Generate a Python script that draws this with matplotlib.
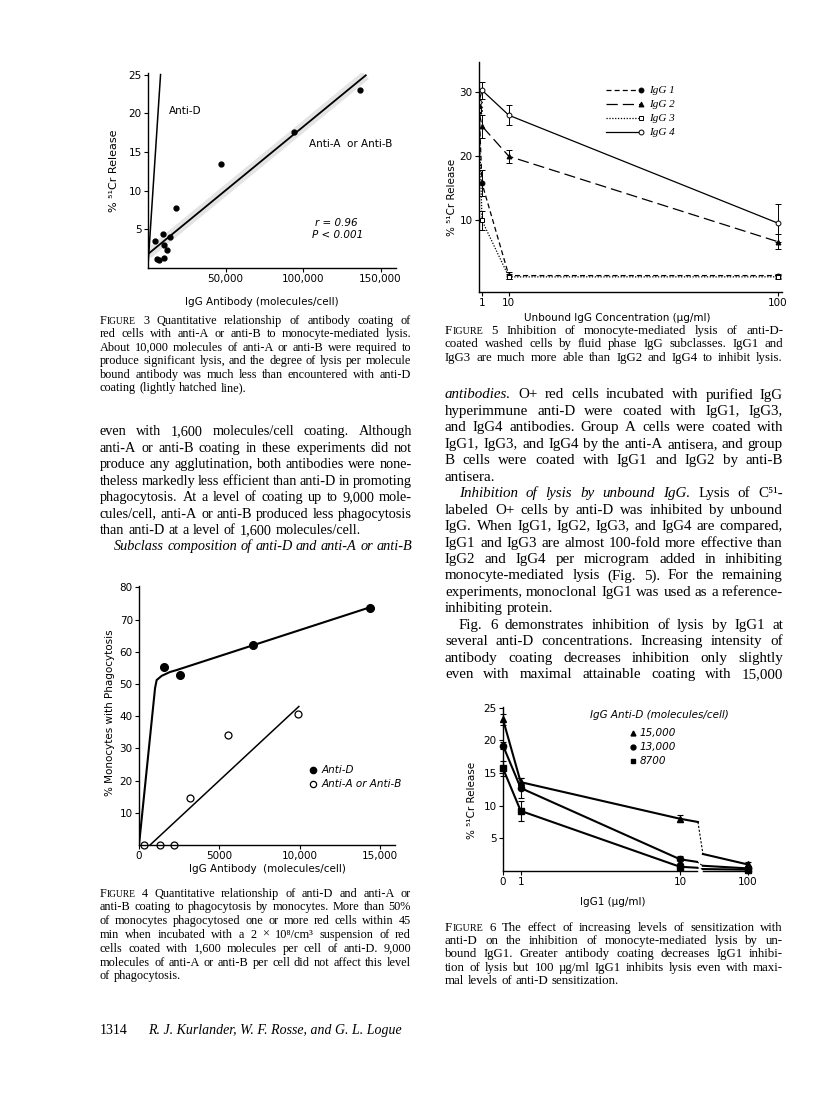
import matplotlib
matplotlib.use("Agg")
import matplotlib.pyplot as plt
import numpy as np

W, H = 816, 1099
SERIF = ["Liberation Serif", "DejaVu Serif"]
SANS = ["DejaVu Sans"]
plt.rcParams["font.family"] = SANS

# ---- Figure 3: lysis vs antibody coating
f3_x = [137000, 94000, 46800, 17900, 14300, 9400, 4300, 10600, 12300, 10200, 5500, 6800]
f3_y = [23.0, 17.6, 13.4, 7.7, 4.0, 4.4, 3.5, 3.0, 2.3, 1.3, 1.2, 1.0]
f3_fit_ab_x = [0, 140500]
f3_fit_ab_y = [1.8, 24.9]
f3_fit_d_x = [0, 8100]
f3_fit_d_y = [0.3, 25.0]

# ---- Figure 4: phagocytosis
f4_d_x = [1580, 2550, 7120, 14380]
f4_d_y = [55.4, 52.7, 62.0, 73.6]
f4_ab_x = [330, 1330, 2200, 3170, 5560, 9880]
f4_ab_y = [0, 0, 0, 14.7, 34.0, 40.6]
f4_dcurve_x = [0, 1000, 1100, 1410, 1930, 2340, 14400]
f4_dcurve_y = [0, 48.7, 51.2, 52.5, 53.7, 54.3, 73.8]
f4_abline_x = [690, 9960]
f4_abline_y = [0, 43.0]

# ---- Figure 5: inhibition by IgG subclasses
f5_x = [0, 1, 10, 100]
f5_igg1 = [27.7, 15.8, 1.4, 1.4]
f5_igg1_err = [0, 2.0, 0.5, 0.3]
f5_igg2 = [27.0, 24.7, 20.0, 6.7]
f5_igg2_err = [0, 1.8, 1.0, 1.2]
f5_igg3 = [27.2, 10.0, 1.2, 1.2]
f5_igg3_err = [0, 1.5, 0.4, 0.3]
f5_igg4 = [28.5, 30.3, 26.4, 9.6]
f5_igg4_err = [0, 1.3, 1.6, 3.0]
f5_names = ["IgG 1", "IgG 2", "IgG 3", "IgG 4"]

# ---- Figure 6: inhibition by IgG1 at several coatings
f6_x = [0, 1, 10, 100]
f6_hi = [23.2, 13.6, 8.0, 1.0]
f6_hi_err = [0.8, 0.6, 0.5, 0.4]
f6_mid = [19.2, 12.7, 1.8, 0.4]
f6_mid_err = [0.6, 1.5, 0.5, 0.3]
f6_lo = [15.7, 9.2, 0.65, 0.2]
f6_lo_err = [1.2, 1.5, 0.2, 0.1]
# path of each line across the axis break (solid, dashed, solid)
f6_hi_path = ([0, 1, 10, 18.4], [23.2, 13.6, 8.0, 7.5], [18.4, 21.8], [7.5, 2.6], [21.8, 100], [2.6, 1.0])
f6_mid_path = ([0, 1, 10, 17.8], [19.2, 12.7, 1.8, 1.4], [17.8, 21.8], [1.4, 0.8], [21.8, 100], [0.8, 0.4])
f6_lo_path = ([0, 1, 10, 17.8], [15.7, 9.2, 0.65, 0.5], [17.8, 21.8], [0.5, 0.3], [21.8, 100], [0.3, 0.2])
f6_names = ["15,000", "13,000", "8700"]

fig = plt.figure(figsize=(W / 100, H / 100), dpi=100)
fig.patch.set_facecolor("white")


def add_ax(left, top, right, bottom):
    return fig.add_axes([left / W, 1 - bottom / H, (right - left) / W, (bottom - top) / H])


def style(ax):
    for s in ("top", "right"):
        ax.spines[s].set_visible(False)
    for s in ("left", "bottom"):
        ax.spines[s].set_linewidth(1.0)
    ax.tick_params(direction="out", length=3, width=0.8, labelsize=7.5, pad=1.5)
    ax.set_facecolor("none")


# ================= Figure 3
ax3 = add_ax(148, 73, 396, 268)
style(ax3)
ax3.plot(f3_fit_ab_x, f3_fit_ab_y, color="#e4e4e4", lw=7, solid_capstyle="butt", zorder=1)
ax3.plot(f3_fit_ab_x, f3_fit_ab_y, color="black", lw=1.3, zorder=2)
ax3.plot(f3_fit_d_x, f3_fit_d_y, color="black", lw=1.1, zorder=2)
ax3.plot(f3_x, f3_y, "o", color="black", ms=3.5, zorder=3)
ax3.set_xlim(0, 160000)
ax3.set_ylim(0, 25.2)
ax3.set_xticks([50000, 100000, 150000])
ax3.set_xticklabels(["50,000", "100,000", "150,000"])
ax3.set_yticks([5, 10, 15, 20, 25])
ax3.set_ylabel("% ⁵¹Cr Release", fontsize=8)
ax3.yaxis.set_label_coords(-0.115, 0.5)
ax3.set_xlabel("IgG Antibody (molecules/cell)", fontsize=7.5)
ax3.xaxis.set_label_coords(0.46, -0.15)
ax3.text(13800, 20.3, "Anti-D", fontsize=7.5, va="center")
ax3.text(104000, 16.0, "Anti-A  or Anti-B", fontsize=7.5, va="center")
ax3.text(108000, 5.8, "r = 0.96", fontsize=7.5, style="italic", va="center")
ax3.text(106000, 4.3, "P < 0.001", fontsize=7.5, style="italic", va="center")

# ================= Figure 5
ax5 = add_ax(479, 62, 782, 292)
style(ax5)
f5_series = [f5_igg1, f5_igg2, f5_igg3, f5_igg4]
f5_errs = [f5_igg1_err, f5_igg2_err, f5_igg3_err, f5_igg4_err]
f5_ls = [(0, (4, 2.5)), (0, (9, 4)), (0, (1, 1.3)), "-"]
f5_mk = ["o", "^", "s", "o"]
f5_fill = ["black", "black", "white", "white"]
for ys, es, ls, mk, fc in zip(f5_series, f5_errs, f5_ls, f5_mk, f5_fill):
    ax5.errorbar(f5_x, ys, yerr=es, fmt="none", ecolor="black", elinewidth=0.7, capsize=2, capthick=0.7)
    ax5.plot(f5_x, ys, color="black", ls=ls, lw=0.9, marker=mk, ms=3.5, mfc=fc, mec="black", mew=0.7)
ax5.set_xlim(0, 101.5)
ax5.set_ylim(-1.16, 34.7)
ax5.set_xticks([1, 10, 100])
ax5.set_yticks([10, 20, 30])
ax5.set_ylabel("% ⁵¹Cr Release", fontsize=7.5)
ax5.yaxis.set_label_coords(-0.072, 0.41)
ax5.set_xlabel("Unbound IgG Concentration (µg/ml)", fontsize=7.5)
ax5.xaxis.set_label_coords(0.455, -0.09)
for i, (name, ls, mk, fc) in enumerate(zip(f5_names, f5_ls, f5_mk, f5_fill)):
    yy = 0.878 - i * 0.061
    ax5.plot([0.42, 0.535], [yy, yy], transform=ax5.transAxes, color="black", ls=ls, lw=0.9)
    ax5.plot([0.535], [yy], transform=ax5.transAxes, marker=mk, ms=3.5, mfc=fc, mec="black", mew=0.7, color="black")
    ax5.text(0.56, yy, name, transform=ax5.transAxes, fontsize=8, style="italic", va="center",
             family=SERIF)

# ================= Figure 4
ax4 = add_ax(139, 586, 395, 845)
style(ax4)
ax4.plot(f4_dcurve_x, f4_dcurve_y, color="black", lw=1.5)
ax4.plot(f4_abline_x, f4_abline_y, color="black", lw=1.1)
ax4.plot(f4_d_x, f4_d_y, "o", color="black", ms=5.5)
ax4.plot(f4_ab_x, f4_ab_y, "o", mfc="white", mec="black", mew=0.9, ms=5, clip_on=False)
ax4.set_xlim(0, 15950)
ax4.set_ylim(0, 80.4)
ax4.set_xticks([0, 5000, 10000, 15000])
ax4.set_xticklabels(["0", "5000", "10,000", "15,000"])
ax4.set_yticks([10, 20, 30, 40, 50, 60, 70, 80])
ax4.set_ylabel("% Monocytes with Phagocytosis", fontsize=7.5)
ax4.yaxis.set_label_coords(-0.094, 0.51)
ax4.set_xlabel("IgG Antibody  (molecules/cell)", fontsize=7.5)
ax4.xaxis.set_label_coords(0.5, -0.075)
ax4.plot([0.68], [0.29], "o", transform=ax4.transAxes, color="black", ms=4.5)
ax4.plot([0.68], [0.235], "o", transform=ax4.transAxes, mfc="white", mec="black", mew=0.9, ms=4.5)
ax4.text(0.715, 0.29, "Anti-D", transform=ax4.transAxes, fontsize=7.5, style="italic", va="center")
ax4.text(0.715, 0.235, "Anti-A or Anti-B", transform=ax4.transAxes, fontsize=7.5, style="italic", va="center")


# ================= Figure 6
def f6_fwd(x):
    x = np.asarray(x, dtype=float)
    return np.where(x <= 10, x, 10 + 3.84 * np.log10(np.maximum(x, 10) / 10))


def f6_inv(u):
    u = np.asarray(u, dtype=float)
    return np.where(u <= 10, u, 10 * 10 ** ((np.maximum(u, 10) - 10) / 3.84))


ax6 = add_ax(503, 707, 752, 871)
style(ax6)
ax6.set_xscale("function", functions=(f6_fwd, f6_inv))
ax6.set_xlim(0, 115)
ax6.set_ylim(0, 25.1)
f6_sets = [(f6_hi, f6_hi_err, f6_hi_path, "^"), (f6_mid, f6_mid_err, f6_mid_path, "o"),
           (f6_lo, f6_lo_err, f6_lo_path, "s")]
for ys, es, path, mk in f6_sets:
    ax6.plot(path[0], path[1], color="black", lw=1.5)
    ax6.plot(path[2], path[3], color="black", lw=0.8, ls=(0, (2, 1.5)))
    ax6.plot(path[4], path[5], color="black", lw=1.5)
    ax6.errorbar(f6_x, ys, yerr=es, fmt=mk, color="black", ms=4.5, elinewidth=0.8, capsize=2,
                 capthick=0.8, clip_on=False)
ax6.spines["bottom"].set_bounds(0, 17.6)
ax6.plot([22.0, 112], [0, 0], color="black", lw=1.0, clip_on=False)
ax6.set_xticks([0, 1, 10, 100])
ax6.set_xticklabels(["0", "1", "10", "100"])
ax6.set_yticks([5, 10, 15, 20, 25])
ax6.set_ylabel("% ⁵¹Cr Release", fontsize=7.5)
ax6.yaxis.set_label_coords(-0.105, 0.43)
ax6.set_xlabel("IgG1 (µg/ml)", fontsize=7.5)
ax6.xaxis.set_label_coords(0.44, -0.16)
ax6.text(0.35, 0.95, "IgG Anti-D (molecules/cell)", transform=ax6.transAxes, fontsize=7.5,
         style="italic", va="center")
for i, (name, mk) in enumerate(zip(f6_names, ["^", "o", "s"])):
    yy = 0.84 - i * 0.085
    ax6.plot([0.522], [yy], mk, transform=ax6.transAxes, color="black", ms=3.5)
    ax6.text(0.55, yy, name, transform=ax6.transAxes, fontsize=7.5, style="italic", va="center")

# ================= page text
renderer = fig.canvas.get_renderer()


def draw_block(lines, ys, x0, x1, size, ends=(), indents=(), indent_px=14):
    px = size * 100 / 72
    for i, (line, yc) in enumerate(zip(lines, ys)):
        yb = 1 - (yc + 0.3 * px) / H
        words = []
        italic = False
        for tok in line.split():
            if tok.startswith("*"):
                italic = True
                tok = tok[1:]
            close = tok.endswith("*")
            if close:
                tok = tok[:-1]
            st = "italic" if italic else "normal"
            if tok.startswith("^"):
                parts = [(tok[1], 1.0), (tok[2:], 0.78)]
            else:
                parts = [(tok, 1.0)]
            arts = []
            for s, f in parts:
                t = fig.text(0, yb, s, fontsize=size * f, style=st, family=SERIF, va="baseline")
                arts.append((t, t.get_window_extent(renderer).width))
            words.append(arts)
            if close:
                italic = False
        start = x0 + (indent_px if i in indents else 0)
        widths = [sum(w for _, w in arts) for arts in words]
        if i in ends or len(words) < 2:
            gap = 0.27 * px
        else:
            gap = (x1 - start - sum(widths)) / (len(words) - 1)
        x = start
        for arts, wd in zip(words, widths):
            xx = x
            for t, w in arts:
                t.set_x(xx / W)
                xx += w
            x += wd + gap


fig3_cap = [
    "^FIGURE 3 Quantitative relationship of antibody coating of",
    "red cells with anti-A or anti-B to monocyte-mediated lysis.",
    "About 10,000 molecules of anti-A or anti-B were required to",
    "produce significant lysis, and the degree of lysis per molecule",
    "bound antibody was much less than encountered with anti-D",
    "coating (lightly hatched line).",
]
draw_block(fig3_cap, [320, 333.5, 347, 360.5, 374, 387.5], 100, 411, 8.8, ends=(5,))

left_body = [
    "even with 1,600 molecules/cell coating. Although",
    "anti-A or anti-B coating in these experiments did not",
    "produce any agglutination, both antibodies were none-",
    "theless markedly less efficient than anti-D in promoting",
    "phagocytosis. At a level of coating up to 9,000 mole-",
    "cules/cell, anti-A or anti-B produced less phagocytosis",
    "than anti-D at a level of 1,600 molecules/cell.",
    "*Subclass composition of anti-D and anti-A or anti-B*",
]
draw_block(left_body, [431 + i * 16.45 for i in range(8)], 100, 412, 10.3, ends=(6,), indents=(7,))

fig4_cap = [
    "^FIGURE 4 Quantitative relationship of anti-D and anti-A or",
    "anti-B coating to phagocytosis by monocytes. More than 50%",
    "of monocytes phagocytosed one or more red cells within 45",
    "min when incubated with a 2 × 10⁸/cm³ suspension of red",
    "cells coated with 1,600 molecules per cell of anti-D. 9,000",
    "molecules of anti-A or anti-B per cell did not affect this level",
    "of phagocytosis.",
]
draw_block(fig4_cap, [893 + i * 13.8 for i in range(7)], 100, 411, 8.8, ends=(6,))

fig5_cap = [
    "^FIGURE 5 Inhibition of monocyte-mediated lysis of anti-D-",
    "coated washed cells by fluid phase IgG subclasses. IgG1 and",
    "IgG3 are much more able than IgG2 and IgG4 to inhibit lysis.",
]
draw_block(fig5_cap, [330, 343.5, 357], 445, 783, 9.3)

right_body = [
    "*antibodies.* O+ red cells incubated with purified IgG",
    "hyperimmune anti-D were coated with IgG1, IgG3,",
    "and IgG4 antibodies. Group A cells were coated with",
    "IgG1, IgG3, and IgG4 by the anti-A antisera, and group",
    "B cells were coated with IgG1 and IgG2 by anti-B",
    "antisera.",
    "*Inhibition of lysis by unbound IgG.* Lysis of C⁵¹-",
    "labeled O+ cells by anti-D was inhibited by unbound",
    "IgG. When IgG1, IgG2, IgG3, and IgG4 are compared,",
    "IgG1 and IgG3 are almost 100-fold more effective than",
    "IgG2 and IgG4 per microgram added in inhibiting",
    "monocyte-mediated lysis (Fig. 5). For the remaining",
    "experiments, monoclonal IgG1 was used as a reference-",
    "inhibiting protein.",
    "Fig. 6 demonstrates inhibition of lysis by IgG1 at",
    "several anti-D concentrations. Increasing intensity of",
    "antibody coating decreases inhibition only slightly",
    "even with maximal attainable coating with 15,000",
]
draw_block(right_body, [394 + i * 16.45 for i in range(18)], 445, 783, 10.8,
           ends=(5, 13), indents=(6, 14))

fig6_cap = [
    "^FIGURE 6 The effect of increasing levels of sensitization with",
    "anti-D on the inhibition of monocyte-mediated lysis by un-",
    "bound IgG1. Greater antibody coating decreases IgG1 inhibi-",
    "tion of lysis but 100 µg/ml IgG1 inhibits lysis even with maxi-",
    "mal levels of anti-D sensitization.",
]
draw_block(fig6_cap, [927 + i * 13.3 for i in range(5)], 445, 783, 9.3, ends=(4,))

fig.text(100 / W, 1 - 1034 / H, "1314", fontsize=10, family=SERIF, va="baseline")
fig.text(148 / W, 1 - 1034 / H, "R. J. Kurlander, W. F. Rosse, and G. L. Logue", fontsize=10,
         family=SERIF, style="italic", va="baseline")

fig.savefig("out.png", dpi=100, facecolor="white")
